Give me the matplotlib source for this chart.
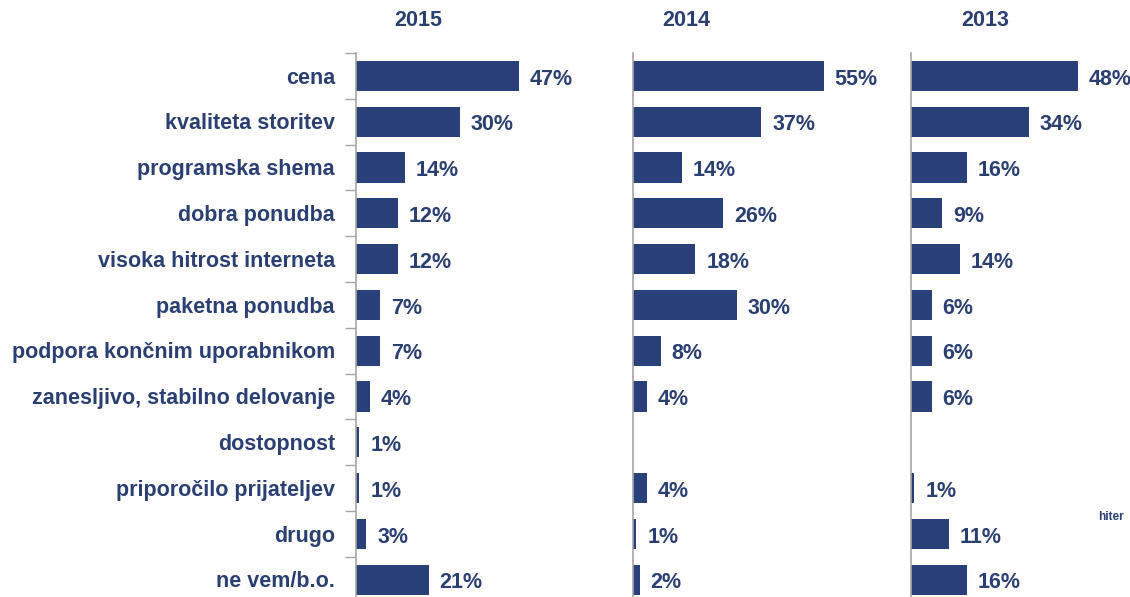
import matplotlib
matplotlib.use("Agg")
import matplotlib.pyplot as plt
import numpy as np

plt.rcParams['font.family'] = ['Liberation Sans', 'DejaVu Sans']

categories = ["cena", "kvaliteta storitev", "programska shema", "dobra ponudba",
              "visoka hitrost interneta", "paketna ponudba", "podpora končnim uporabnikom",
              "zanesljivo, stabilno delovanje", "dostopnost", "priporočilo prijateljev",
              "drugo", "ne vem/b.o."]
years = ["2015", "2014", "2013"]
values_2015 = [47, 30, 14, 12, 12, 7, 7, 4, 1, 1, 3, 21]
values_2014 = [55, 37, 14, 26, 18, 30, 8, 4, None, 4, 1, 2]
values_2013 = [48, 34, 16, 9, 14, 6, 6, 6, None, 1, 11, 16]
series = [values_2015, values_2014, values_2013]

W, H = 1130, 597
fig = plt.figure(figsize=(W / 100, H / 100), dpi=100)

bar_color = "#29407A"
text_color = "#2B3F73"
axis_color = "#A6A6A6"

px_per_pct = 3.47
n = len(categories)
row = 45.8
top_px = 53
axis_x = [356, 633, 911]
panel_w = [277, 277, 219]
title_x = [418, 686, 985]
fs = 15.5

for k, (vals, yr) in enumerate(zip(series, years)):
    x0 = axis_x[k]
    w = panel_w[k]
    h_px = row * n
    ax = fig.add_axes([x0 / W, 1 - (top_px + h_px) / H, w / W, h_px / H])
    ax.set_xlim(0, w / px_per_pct)
    ax.set_ylim(n - 0.5, -0.5)
    for i, v in enumerate(vals):
        if v is None:
            continue
        ax.barh(i, v, height=0.66, color=bar_color, edgecolor='none')
        ax.text(v + 3.1, i + 0.07, f"{v}%", va='center', ha='left', fontsize=fs,
                fontweight='bold', color=text_color)
    for s in ["top", "right", "bottom"]:
        ax.spines[s].set_visible(False)
    ax.spines["left"].set_color(axis_color)
    ax.spines["left"].set_linewidth(1.2)
    ax.set_xticks([])
    if k == 0:
        ax.set_yticks(np.arange(n + 1) - 0.5)
        ax.set_yticklabels([])
        ax.tick_params(axis='y', length=8, color=axis_color, width=1)
        for i, c in enumerate(categories):
            ax.text(-21 / px_per_pct, i + 0.05, c, ha='right', va='center', fontsize=fs,
                    fontweight='bold', color=text_color, clip_on=False)
    else:
        ax.set_yticks([])
    fig.text(title_x[k] / W, 1 - 21 / H, yr, ha='center', va='center', fontsize=fs,
             fontweight='bold', color=text_color)

fig.text(1098 / W, 1 - 517 / H, "hiter", ha='left', va='center', fontsize=8.5,
         fontweight='bold', color=text_color)

fig.savefig("out.png", dpi=100)
